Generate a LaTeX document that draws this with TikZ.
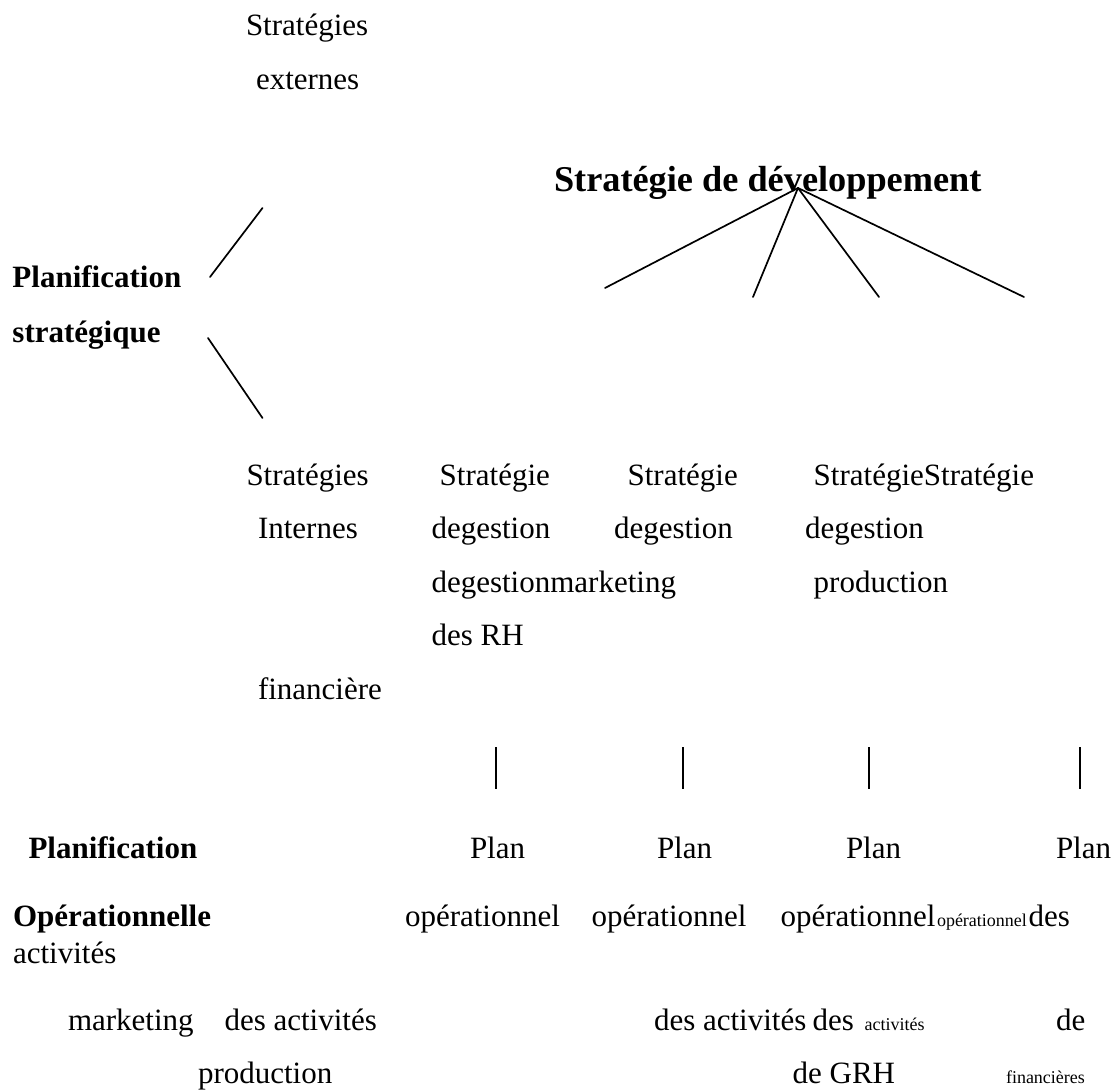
\documentclass[tikz,border=0pt]{standalone}
\usepackage{fontspec}
\setmainfont{Liberation Serif}
\begin{document}
\begin{tikzpicture}[x=1pt,y=-1pt,
  txt/.style={anchor=base west,inner sep=0pt,outer sep=0pt,font=\fontsize{31}{37}\selectfont},
  boldtxt/.style={txt,font=\fontsize{31}{37}\selectfont\bfseries},
  titletxt/.style={txt,font=\fontsize{36.3}{43}\selectfont\bfseries},
  smalltxt/.style={txt,font=\fontsize{18}{22}\selectfont},
  link/.style={line width=1.7pt,line cap=round},
  bar/.style={line width=1.8pt}]
\useasboundingbox (0,0) rectangle (1112,1090);

% top: external strategies and development strategy
\node[txt] (ext1) at (246,35) {Stratégies};
\node[txt] (ext2) at (256,89) {externes};
\node[titletxt] (dev) at (554,191) {Stratégie de développement};

% strategic planning with its two branches
\node[boldtxt] (ps1) at (12.5,287) {Planification};
\node[boldtxt] (ps2) at (12.5,342) {stratégique};
\coordinate (bUpA) at (210,277);
\coordinate (bUpB) at (262.5,208);
\coordinate (bLoA) at (208,338);
\coordinate (bLoB) at (262.5,418);
\draw[link] (bUpA) -- (bUpB);
\draw[link] (bLoA) -- (bLoB);

% fan of lines under the development strategy
\coordinate (apex) at (798,188);
\coordinate (f1) at (605,288);
\coordinate (f2) at (753,297);
\coordinate (f3) at (879,297);
\coordinate (f4) at (1024,297);
\foreach \e in {f1,f2,f3,f4} \draw[link] (apex) -- (\e);

% internal strategies block
\node[txt] (r1a) at (246.5,485) {Stratégies};
\node[txt] (r1b) at (439.7,485) {Stratégie};
\node[txt] (r1c) at (627.6,485) {Stratégie};
\node[txt] (r1d) at (813.7,485) {StratégieStratégie};
\node[txt] (r2a) at (258,538) {Internes};
\node[txt] (r2b) at (431.5,538) {degestion};
\node[txt] (r2c) at (614,538) {degestion};
\node[txt] (r2d) at (805,538) {degestion};
\node[txt] (r3a) at (431.5,592) {degestionmarketing};
\node[txt] (r3b) at (813.7,592) {production};
\node[txt] (r4a) at (431.5,645) {des RH};
\node[txt] (r5a) at (258,699) {financière};

% vertical bars
\foreach \i/\x in {1/495.7,2/682.7,3/869,4/1079.6}{
  \coordinate (vt\i) at (\x,747);
  \coordinate (vb\i) at (\x,789);
  \draw[bar] (vt\i) -- (vb\i);
}

% operational planning block
\node[boldtxt] (po1) at (28.5,858) {Planification};
\node[txt] (pl1) at (470,858) {Plan};
\node[txt] (pl2) at (657,858) {Plan};
\node[txt] (pl3) at (846,858) {Plan};
\node[txt] (pl4) at (1056,858) {Plan};

\node[boldtxt] (po2) at (13,926) {Opérationnelle};
\node[txt] (op1) at (405,926) {opérationnel};
\node[txt] (op2) at (591.6,926) {opérationnel};
\node[txt] (op3) at (780.5,926) {opérationnel};
\node[smalltxt] (op4) at (937,926) {opérationnel};
\node[txt] (op5) at (1028.5,926) {des};

\node[txt] (ac1) at (13,963) {activités};

\node[txt] (m1) at (68,1030) {marketing};
\node[txt] (m2) at (224.5,1030) {des activités};
\node[txt] (m3) at (654,1030) {des activités};
\node[txt] (m4) at (812.5,1030) {des};
\node[smalltxt] (m5) at (864.6,1030) {activités};
\node[txt] (m6) at (1056,1030) {de};

\node[txt] (n1) at (198,1083) {production};
\node[txt] (n2) at (792.6,1083) {de GRH};
\node[smalltxt] (n3) at (1006,1083) {financières};
\end{tikzpicture}
\end{document}
